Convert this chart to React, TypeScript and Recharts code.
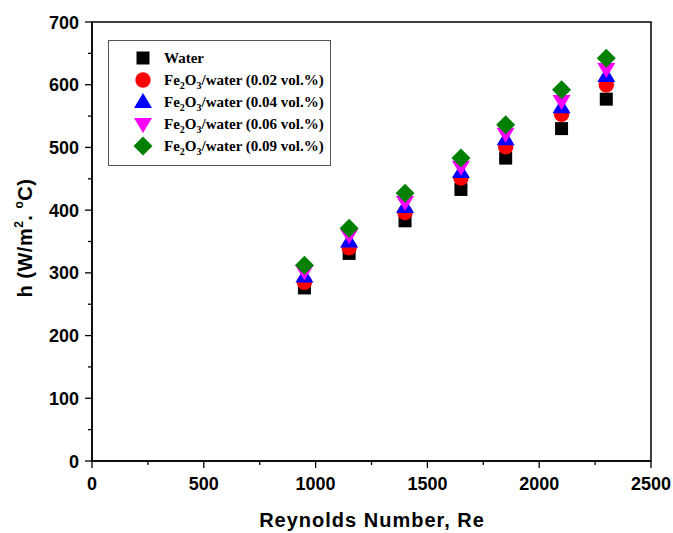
import React from 'react';
import { ScatterChart, Scatter, XAxis, YAxis, ReferenceArea, Legend, Label } from 'recharts';

// Reynolds numbers tested
const reynolds = [950, 1150, 1400, 1650, 1850, 2100, 2300];

// heat transfer coefficient h (W/m2.C)
const water = [276, 331, 383, 433, 483, 530, 577];
const fe002 = [285, 340, 396, 451, 501, 553, 600];
const fe004 = [294, 350, 405, 461, 513, 564, 614];
const fe006 = [302, 360, 413, 469, 522, 574, 625];
const fe009 = [312, 371, 427, 483, 536, 592, 642];

const xTicks = [0, 250, 500, 750, 1000, 1250, 1500, 1750, 2000, 2250, 2500];
const yTicks = [0, 50, 100, 150, 200, 250, 300, 350, 400, 450, 500, 550, 600, 650, 700];

const SANS = '"Liberation Sans", Arial, sans-serif';
const SERIF = '"Liberation Serif", "Times New Roman", serif';

const toPoints = (vals: number[]) => reynolds.map((re, i) => ({ x: re, y: vals[i] }));

const drawSquare = (cx: number, cy: number, fill: string) => (
  <rect x={cx - 6.5} y={cy - 6.5} width={13} height={13} fill={fill} />
);
const drawCircle = (cx: number, cy: number, fill: string) => <circle cx={cx} cy={cy} r={7.7} fill={fill} />;
const drawUp = (cx: number, cy: number, fill: string) => (
  <polygon points={`${cx},${cy - 9} ${cx + 9},${cy + 6} ${cx - 9},${cy + 6}`} fill={fill} />
);
const drawDown = (cx: number, cy: number, fill: string) => (
  <polygon points={`${cx - 9},${cy - 6} ${cx + 9},${cy - 6} ${cx},${cy + 9}`} fill={fill} />
);
const drawDiamond = (cx: number, cy: number, fill: string) => (
  <polygon points={`${cx},${cy - 9.5} ${cx + 9.5},${cy} ${cx},${cy + 9.5} ${cx - 9.5},${cy}`} fill={fill} />
);

const series = [
  { key: 'water', name: 'Water', values: water, color: '#000000', draw: drawSquare, pct: '' },
  { key: 'fe002', name: 'Fe2O3/water', values: fe002, color: '#ff0000', draw: drawCircle, pct: '0.02' },
  { key: 'fe004', name: 'Fe2O3/water', values: fe004, color: '#0000ff', draw: drawUp, pct: '0.04' },
  { key: 'fe006', name: 'Fe2O3/water', values: fe006, color: '#ff00ff', draw: drawDown, pct: '0.06' },
  { key: 'fe009', name: 'Fe2O3/water', values: fe009, color: '#008000', draw: drawDiamond, pct: '0.09' },
];

const YTick = (props: any) => {
  const { x, y, payload } = props;
  const major = payload.value % 100 === 0;
  return (
    <g>
      <line x1={x} x2={x - (major ? 7 : 4)} y1={y} y2={y} stroke="#000" strokeWidth={1.3} />
      {major && (
        <text x={x - 13} y={y + 6.5} textAnchor="end" fontFamily={SANS} fontWeight="bold" fontSize={18} fill="#000">
          {payload.value}
        </text>
      )}
    </g>
  );
};

const XTick = (props: any) => {
  const { x, y, payload } = props;
  const major = payload.value % 500 === 0;
  return (
    <g>
      <line x1={x} x2={x} y1={y} y2={y + (major ? 7 : 4)} stroke="#000" strokeWidth={1.3} />
      {major && (
        <text x={x} y={y + 29} textAnchor="middle" fontFamily={SANS} fontWeight="bold" fontSize={18} fill="#000">
          {payload.value}
        </text>
      )}
    </g>
  );
};

const renderXTitle = () => (
  <text x={372} y={527} textAnchor="middle" fontFamily={SANS} fontWeight="bold" fontSize={20} letterSpacing={1} fill="#000">
    Reynolds Number, Re
  </text>
);

const renderYTitle = () => (
  <text
    x={32}
    y={238}
    transform="rotate(-90 32 238)"
    textAnchor="middle"
    fontFamily={SANS}
    fontWeight="bold"
    fontSize={20}
    letterSpacing={0.5}
    fill="#000"
  >
    h (W/m
    <tspan fontSize={12} dy={-9}>2</tspan>
    <tspan dy={9}>. </tspan>
    <tspan fontSize={12} dy={-9}>o</tspan>
    <tspan dy={9}>C)</tspan>
  </text>
);

const renderLegend = () => (
  <svg width={223} height={126} style={{ display: 'block' }}>
    <rect x={0.5} y={0.5} width={222} height={125} fill="#fff" stroke="#555" strokeWidth={1} />
    {series.map((s, i) => {
      const cy = 18 + i * 22;
      return (
        <g key={s.key}>
          {s.draw(35, cy, s.color)}
          <text x={56} y={cy + 5} fontFamily={SERIF} fontWeight="bold" fontSize={15} fill="#000">
            {s.pct === '' ? (
              'Water'
            ) : (
              <>
                Fe<tspan fontSize={10} dy={4}>2</tspan>
                <tspan dy={-4}>O</tspan>
                <tspan fontSize={10} dy={4}>3</tspan>
                <tspan dy={-4}>{`/water (${s.pct} vol.%)`}</tspan>
              </>
            )}
          </text>
        </g>
      );
    })}
  </svg>
);

export default function App() {
  return (
    <div style={{ position: 'absolute', left: 0, top: 0, background: '#fff' }}>
      <ScatterChart width={673} height={533} margin={{ top: 22, right: 22, bottom: 0, left: 0 }}>
        <XAxis
          type="number"
          dataKey="x"
          domain={[0, 2500]}
          ticks={xTicks}
          interval={0}
          tickSize={0}
          tickMargin={0}
          tick={<XTick />}
          height={72}
          axisLine={{ stroke: '#000', strokeWidth: 1.5 }}
        >
          <Label content={renderXTitle} />
        </XAxis>
        <YAxis
          type="number"
          dataKey="y"
          domain={[0, 700]}
          ticks={yTicks}
          interval={0}
          tickSize={0}
          tickMargin={0}
          tick={<YTick />}
          width={92}
          axisLine={{ stroke: '#000', strokeWidth: 1.5 }}
        >
          <Label content={renderYTitle} />
        </YAxis>
        <ReferenceArea x1={0} x2={2500} y1={0} y2={700} fill="none" stroke="#000" strokeWidth={1.5} ifOverflow="visible" />
        {series.map((s) => (
          <Scatter
            key={s.key}
            name={s.key}
            data={toPoints(s.values)}
            fill={s.color}
            isAnimationActive={false}
            shape={(p: any) => s.draw(p.cx, p.cy, s.color)}
          />
        ))}
        <Legend
          content={renderLegend}
          layout="vertical"
          align="center"
          verticalAlign="middle"
          wrapperStyle={{ left: 108, top: 40, width: 223, height: 126 }}
        />
      </ScatterChart>
    </div>
  );
}
